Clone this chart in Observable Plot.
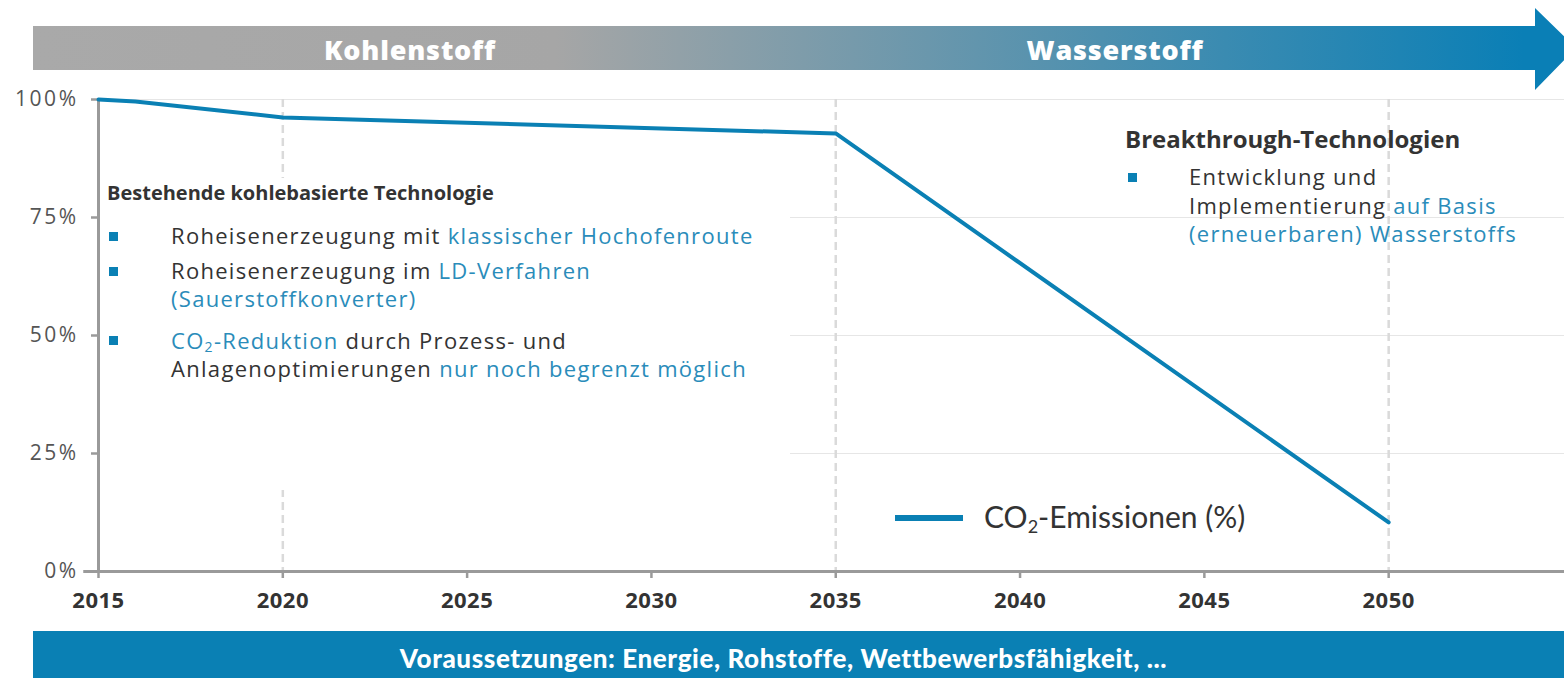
<!DOCTYPE html>
<html>
<head>
<meta charset="utf-8">
<script src="https://cdn.jsdelivr.net/npm/d3@7"></script>
<script src="https://cdn.jsdelivr.net/npm/@observablehq/plot@0.6"></script>
<style>
  html, body { margin: 0; padding: 0; background: #fff; }
  #wrap { position: relative; width: 1564px; height: 678px; overflow: hidden; font-family: "Open Sans", sans-serif; }
  #wrap > svg.plot { position: absolute; left: 0; top: 0; }
  .abs { position: absolute; white-space: nowrap; }
  .line { font-family: "Open Sans", sans-serif; font-size: 22px; line-height: 28px; color: #333; letter-spacing: 1.3px; }
  .hl { color: #2a8cba; }
  .ttl { font-family: "Open Sans", sans-serif; font-weight: 700; font-size: 20px; line-height: 28px; color: #333; }
  .ttl2 { font-family: "Open Sans", sans-serif; font-weight: 700; font-size: 24px; line-height: 28px; color: #333; }
</style>
</head>
<body>
<div id="wrap"></div>
<script>
// ---- data ----
const years = [2015, 2016, 2020, 2035, 2050];
const emissions = [100, 99.6, 96.2, 92.8, 10.4];
const xTicks = [2015, 2020, 2025, 2030, 2035, 2040, 2045, 2050];
const yTicks = [0, 25, 50, 75, 100];
const gridY = [25, 50, 75, 100];
const milestoneYears = [2020, 2035, 2050];
const phaseLabels = ["Kohlenstoff", "Wasserstoff"];
const bottomLabel = "Voraussetzungen: Energie, Rohstoffe, Wettbewerbsfähigkeit, ...";

const data = years.map((year, i) => ({year, value: emissions[i]}));

const W = 1564, H = 678;
const chart = Plot.plot({
  width: W,
  height: H,
  marginLeft: 98,
  marginRight: 0,
  marginTop: 99,
  marginBottom: 107,
  style: {fontFamily: "Open Sans, sans-serif", background: "transparent"},
  x: {domain: [2015, 2054.77], label: null},
  y: {domain: [0, 100], label: null},
  marks: [
    Plot.ruleY(gridY, {stroke: "#e6e6e6", strokeWidth: 1.2}),
    Plot.ruleX(milestoneYears, {stroke: "#dadada", strokeWidth: 2.5, strokeDasharray: "8,5"}),
    Plot.axisY({ticks: yTicks, tickFormat: d => d + "%", tickSize: 7, tickPadding: 13,
      stroke: "#9a9a9a", strokeWidth: 2.5, fill: "#555", fontSize: 21, letterSpacing: 2.5, label: null}),
    Plot.axisX({ticks: xTicks, tickFormat: d => String(d), tickSize: 7, tickPadding: 14,
      stroke: "#9a9a9a", strokeWidth: 2.5, fill: "#333", fontSize: 22, fontWeight: "bold", label: null}),
    Plot.ruleY([0], {stroke: "#9a9a9a", strokeWidth: 3, x1: 2014.6, x2: 2054.77}),
    Plot.ruleX([2015], {y1: 0, y2: 100, stroke: "#9a9a9a", strokeWidth: 3}),
    Plot.line(data, {x: "year", y: "value", stroke: "#0a80b4", strokeWidth: 4})
  ]
});
chart.classList.add("plot");
// letter-spacing on y-axis labels (not a mark option)
chart.querySelectorAll("g[aria-label='y-axis tick label'] text").forEach(t => t.setAttribute("letter-spacing", "2.5"));
chart.querySelectorAll("g[aria-label='x-axis tick label'] text").forEach(t => t.setAttribute("letter-spacing", "0.5"));
const wrap = document.getElementById("wrap");
wrap.appendChild(chart);

// ---- top arrow band ----
const ns = "http://www.w3.org/2000/svg";
const band = document.createElementNS(ns, "svg");
band.setAttribute("width", W); band.setAttribute("height", 100);
band.style.position = "absolute"; band.style.left = "0"; band.style.top = "0";
band.innerHTML = `
  <defs>
    <linearGradient id="g" gradientUnits="userSpaceOnUse" x1="33" y1="0" x2="1570" y2="0">
      <stop offset="0" stop-color="#a9a9a9"/>
      <stop offset="0.34" stop-color="#a6a6a6"/>
      <stop offset="0.97" stop-color="#0a7fb6"/>
      <stop offset="1" stop-color="#0a7fb6"/>
    </linearGradient>
  </defs>
  <polygon points="33,26 1535,26 1535,8 1576,48 1535,90 1535,70 33,70" fill="url(#g)"/>
  <text x="410" y="49" text-anchor="middle" dominant-baseline="central" fill="#fff"
    font-family="Open Sans" font-weight="800" font-size="27" letter-spacing="0.8">${phaseLabels[0]}</text>
  <text x="1115" y="49" text-anchor="middle" dominant-baseline="central" fill="#fff"
    font-family="Open Sans" font-weight="800" font-size="27" letter-spacing="0.8">${phaseLabels[1]}</text>`;
wrap.appendChild(band);

// ---- bottom band ----
const bottom = document.createElement("div");
bottom.className = "abs";
Object.assign(bottom.style, {left: "33px", top: "631px", width: (W - 33) + "px", height: "47px",
  background: "#0a80b4", color: "#fff", fontFamily: "Lato, sans-serif", fontWeight: "900",
  fontSize: "26px", lineHeight: "47px", textAlign: "center", letterSpacing: "0.6px"});
bottom.innerHTML = `<span style="position:relative;left:-15px;top:4px">${bottomLabel}</span>`;
wrap.appendChild(bottom);

// ---- annotations ----
function addBox(html, left, topY, extra) {
  const d = document.createElement("div");
  d.className = "abs";
  d.style.left = left + "px"; d.style.top = topY + "px";
  if (extra) Object.assign(d.style, extra);
  d.innerHTML = html;
  wrap.appendChild(d);
  return d;
}
// white background behind left annotation
addBox("", 100, 178, {width: "690px", height: "312px", background: "#fff"});

function textLine(cls, html, x, cy) { addBox(`<div class="${cls}">${html}</div>`, x, cy - 14); }
function bullet(x, cy) { addBox("", x, cy - 4.5, {width: "9px", height: "9px", background: "#0a80b4"}); }

textLine("ttl", "Bestehende kohlebasierte Technologie", 107, 193);
bullet(109, 236);
textLine("line", `Roheisenerzeugung mit <span class="hl">klassischer Hochofenroute</span>`, 171, 235);
bullet(109, 271);
textLine("line", `Roheisenerzeugung im <span class="hl">LD-Verfahren</span>`, 171, 270);
textLine("line", `<span class="hl">(Sauerstoffkonverter)</span>`, 171, 298);
bullet(109, 340);
textLine("line", `<span class="hl">CO<sub style="font-size:14px;vertical-align:-3px">2</sub>-Reduktion</span> durch Prozess- und`, 171, 340);
textLine("line", `Anlagenoptimierungen <span class="hl">nur noch begrenzt möglich</span>`, 171, 368);

textLine("ttl2", "Breakthrough-Technologien", 1125, 139);
bullet(1128, 177);
textLine("line", "Entwicklung und", 1189, 176);
textLine("line", `Implementierung <span class="hl">auf Basis</span>`, 1189, 205);
textLine("line", `<span class="hl">(erneuerbaren) Wasserstoffs</span>`, 1189, 233);

// ---- legend ----
addBox("", 895, 515, {width: "68px", height: "6px", background: "#0a80b4"});
addBox(`<span>CO<sub style="font-size:18px;vertical-align:-5px">2</sub>-Emissionen (%)</span>`, 984, 517 - 19,
  {fontFamily: "Lato, sans-serif", fontSize: "30px", lineHeight: "36px", color: "#333"});
</script>
</body>
</html>
